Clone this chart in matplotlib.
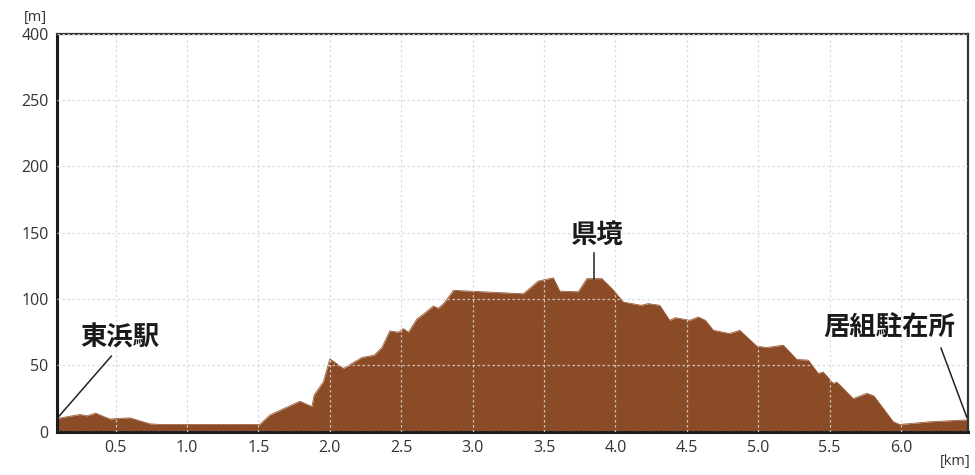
import matplotlib
matplotlib.use("Agg")
import matplotlib.pyplot as plt

plt.rcParams['font.family'] = ['Open Sans', 'Noto Sans CJK JP', 'DejaVu Sans']

# elevation profile (km, m)
dist = [0.09, 0.25, 0.30, 0.36, 0.46, 0.60, 0.74, 0.81, 1.51, 1.58, 1.68, 1.79, 1.875,
        1.89, 1.955, 2.0, 2.095, 2.225, 2.31, 2.365, 2.42, 2.48, 2.515, 2.55, 2.61,
        2.655, 2.725, 2.76, 2.80, 2.866, 3.355, 3.46, 3.565, 3.61, 3.74, 3.80, 3.905,
        3.975, 4.055, 4.18, 4.23, 4.31, 4.38, 4.42, 4.52, 4.58, 4.63, 4.685, 4.80,
        4.87, 4.99, 5.06, 5.175, 5.27, 5.35, 5.42, 5.455, 5.525, 5.55, 5.665, 5.76,
        5.81, 5.945, 5.99, 6.2, 6.47]
elev = [10, 13, 12, 14, 9.6, 10.5, 6, 5.5, 5.5, 12.6, 17.6, 23, 19,
        27.7, 37.7, 55, 47.7, 56, 57.7, 63.5, 76, 75, 77.8, 75, 85,
        88.6, 94.8, 93, 97, 106.6, 104, 113.6, 116, 106, 105.5, 115.4, 115.4,
        108, 97.8, 95.3, 96.6, 95.3, 84, 86, 84, 86.5, 84, 76.5, 74,
        76.5, 64.5, 63.5, 65.3, 54.5, 54, 44, 45, 36.5, 37.5, 25, 29,
        27, 7.6, 5.5, 7.5, 9]

xticks = [0.5, 1.0, 1.5, 2.0, 2.5, 3.0, 3.5, 4.0, 4.5, 5.0, 5.5, 6.0]
yticks = [0, 50, 100, 150, 200, 250, 300]
ytick_labels = ['0', '50', '100', '150', '200', '250', '400']

# place labels: (text, text x, text y, line start, line end)
places = [
    ('東浜駅', 0.53, 71, (0.47, 57), (0.09, 10)),
    ('県境', 3.87, 148, (3.85, 135), (3.85, 115.4)),
    ('居組駐在所', 5.92, 78, (6.28, 63), (6.46, 11)),
]

fig = plt.figure(figsize=(9.75, 4.75), dpi=100)
ax = fig.add_axes([0.0585, 0.091, 0.9345, 0.838])

ax.fill_between(dist, elev, 0, color='#8c4b27', lw=0, zorder=1)
ax.plot(dist, elev, color='#9a5a35', lw=0.6, zorder=1)

ax.set_xlim(0.09, 6.47)
ax.set_ylim(0, 300)
ax.set_xticks(xticks)
ax.set_xticklabels([f'{t:.1f}' for t in xticks])
ax.set_yticks(yticks)
ax.set_yticklabels(ytick_labels)
ax.tick_params(length=0, labelsize=11.5, colors='#333333', pad=6)

ax.grid(True, color='#d6d6d6', linestyle=(0, (2, 2)), lw=0.9, alpha=0.85, zorder=2)
ax.set_axisbelow(False)

for side in ['left', 'bottom']:
    ax.spines[side].set_linewidth(2.2)
    ax.spines[side].set_color('#1a1a1a')
for side in ['top', 'right']:
    ax.spines[side].set_linewidth(1.6)
    ax.spines[side].set_color('#333333')

for name, tx, ty, p0, p1 in places:
    ax.text(tx, ty, name, ha='center', va='center', fontsize=19, fontweight='bold',
            family=['Noto Sans CJK JP', 'DejaVu Sans'], color='#1a1a1a', zorder=5)
    ax.plot([p0[0], p1[0]], [p0[1], p1[1]], color='#222222', lw=1.1, zorder=5,
            clip_on=False)

fig.text(35 / 975, 1 - 18 / 475, '[m]', ha='center', va='center', fontsize=10.5, color='#333333')
fig.text(955 / 975, 1 - 462 / 475, '[km]', ha='center', va='center', fontsize=10.5, color='#333333')

fig.savefig('out.png', dpi=100)
